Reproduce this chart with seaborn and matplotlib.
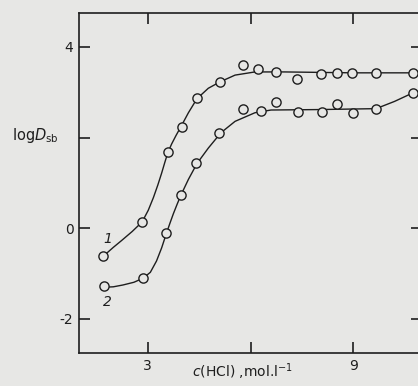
import seaborn as sns
import matplotlib.pyplot as plt
import pandas as pd

# measured points, curve 1 and curve 2
x1 = [1.70, 2.84, 3.59, 4.00, 4.44, 5.11, 5.78, 6.22, 6.74, 7.36, 8.06, 8.52, 8.96, 9.66, 10.74]
y1 = [-0.62, 0.15, 1.69, 2.24, 2.88, 3.23, 3.60, 3.52, 3.45, 3.30, 3.41, 3.43, 3.43, 3.43, 3.43]
x2 = [1.73, 2.87, 3.54, 3.97, 4.41, 5.08, 5.78, 6.31, 6.74, 7.38, 8.08, 8.52, 8.99, 9.66, 10.74]
y2 = [-1.27, -1.10, -0.11, 0.73, 1.45, 2.11, 2.64, 2.59, 2.79, 2.57, 2.57, 2.75, 2.55, 2.64, 2.99]

# hand-drawn fit curves
c1x = [1.70, 2.00, 2.24, 2.55, 2.84, 3.02, 3.17, 3.30, 3.41, 3.50, 3.59, 3.70, 3.83, 3.97,
       4.19, 4.44, 4.77, 5.11, 5.55, 6.13, 7.00, 8.00, 9.00, 11.0]
c1y = [-0.62, -0.42, -0.27, -0.07, 0.14, 0.40, 0.68, 0.96, 1.22, 1.45, 1.67, 1.86, 2.05, 2.24,
       2.55, 2.86, 3.09, 3.23, 3.38, 3.45, 3.45, 3.44, 3.43, 3.43]
c2x = [1.70, 2.00, 2.28, 2.60, 2.87, 3.08, 3.26, 3.41, 3.54, 3.65, 3.75, 3.86, 3.97, 4.19, 4.44,
       4.77, 5.14, 5.55, 6.13, 6.60, 8.00, 9.66, 10.20, 10.74]
c2y = [-1.30, -1.29, -1.25, -1.19, -1.10, -0.97, -0.72, -0.43, -0.13, 0.11, 0.32, 0.53, 0.73,
       1.08, 1.43, 1.77, 2.11, 2.36, 2.55, 2.61, 2.62, 2.64, 2.80, 2.99]

xticks = [3, 6, 9]
xticklabels = ['3', '', '9']
yticks = [-2, 0, 2, 4]
yticklabels = ['-2', '0', '', '4']

bg = '#e7e7e5'
ink = '#1e1e1e'

sns.set_style('ticks')
plt.rcParams['font.family'] = ['DejaVu Sans']
plt.rcParams['mathtext.fontset'] = 'dejavusans'

fig = plt.figure(figsize=(4.18, 3.86), dpi=100, facecolor=bg)
ax = fig.add_axes([79 / 418, 33 / 386, 343 / 418, 340 / 386])
ax.set_facecolor(bg)

pts = pd.concat([
    pd.DataFrame({'x': x1, 'y': y1, 'curve': '1'}),
    pd.DataFrame({'x': x2, 'y': y2, 'curve': '2'}),
])
fits = pd.concat([
    pd.DataFrame({'x': c1x, 'y': c1y, 'curve': '1'}),
    pd.DataFrame({'x': c2x, 'y': c2y, 'curve': '2'}),
])

sns.lineplot(data=fits, x='x', y='y', units='curve', estimator=None, sort=False,
             color=ink, lw=1.0, ax=ax, zorder=2)
sns.scatterplot(data=pts, x='x', y='y', marker='o', s=44, facecolor=bg,
                edgecolor=ink, linewidth=1.0, ax=ax, zorder=3, legend=False)

ax.set_xlim(1, 11)
ax.set_ylim(-2.75, 4.75)
ax.set_xticks(xticks)
ax.set_xticklabels(xticklabels)
ax.set_yticks(yticks)
ax.set_yticklabels(yticklabels)
ax.tick_params(direction='in', length=8, width=1.2, colors=ink, labelsize=10,
               top=True, right=True, pad=4)
for s in ax.spines.values():
    s.set_linewidth(1.2)
    s.set_color(ink)
ax.set_xlabel('')
ax.set_ylabel('')

ax.text(1.85, -0.24, '1', style='italic', fontsize=10, color=ink, ha='center', va='center')
ax.text(1.82, -1.63, '2', style='italic', fontsize=10, color=ink, ha='center', va='center')

fig.text(35 / 418, 1 - 136 / 386, r'log$D_{\mathrm{sb}}$', fontsize=10.5, color=ink,
         ha='center', va='center')
fig.text(242 / 418, 1 - 372 / 386, r'$c$(HCl) ,mol.l$^{-1}$', fontsize=10, color=ink,
         ha='center', va='center')

fig.savefig('out.png', dpi=100, facecolor=bg)
